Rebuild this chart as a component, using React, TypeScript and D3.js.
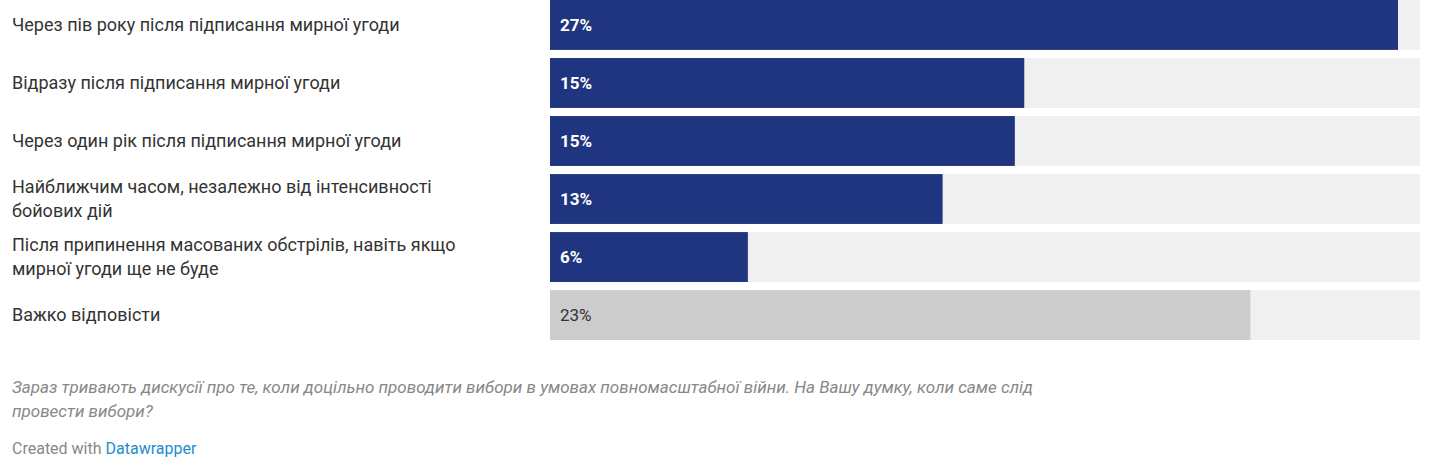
import React from "react";
import * as d3 from "d3";

const categories = [
  ["Через пів року після підписання мирної угоди"],
  ["Відразу після підписання мирної угоди"],
  ["Через один рік після підписання мирної угоди"],
  ["Найближчим часом, незалежно від інтенсивності", "бойових дій"],
  ["Після припинення масованих обстрілів, навіть якщо", "мирної угоди ще не буде"],
  ["Важко відповісти"],
];
const values = [27.0, 15.1, 14.8, 12.5, 6.3, 22.3];
const valueLabels = ["27%", "15%", "15%", "13%", "6%", "23%"];
const caption = [
  "Зараз тривають дискусії про те, коли доцільно проводити вибори в умовах повномасштабної війни. На Вашу думку, коли саме слід",
  "провести вибори?",
];

export default function App() {
  const x = d3.scaleLinear().domain([0, 27.7]).range([550, 1420]);
  const y = d3.scaleBand().domain(d3.range(6).map(String)).range([0, 340]).paddingInner(0.14).paddingOuter(0);
  const font = "Roboto, sans-serif";
  return (
    <svg width={1440} height={460} style={{ position: "absolute", left: 0, top: 0, background: "#fff" }} fontFamily={font}>
      {values.map((v, i) => {
        const yy = y(String(i))!;
        const h = y.bandwidth();
        const last = i === 5;
        const lines = categories[i];
        return (
          <g key={i}>
            <rect x={x(0)} y={yy} width={x(27.7) - x(0)} height={h} fill="#f0f0f0" />
            <rect x={x(0)} y={yy} width={x(v) - x(0)} height={h} fill={last ? "#cccccc" : "#1f357f"} />
            <text x={560} y={yy + h / 2 + 6} fontSize={17} fontWeight={last ? 400 : 700} fill={last ? "#333" : "#fff"}>
              {valueLabels[i]}
            </text>
            {lines.map((l, j) => (
              <text key={j} x={12} y={yy + h / 2 + 6 + (j - (lines.length - 1) / 2) * 24} fontSize={18} fill="#333">
                {l}
              </text>
            ))}
          </g>
        );
      })}
      {caption.map((c, j) => (
        <text key={j} x={12} y={393 + j * 24} fontSize={17} fontStyle="italic" fill="#888">
          {c}
        </text>
      ))}
      <text x={12} y={454} fontSize={16} fill="#888">
        Created with <tspan fill="#1d8bd1">Datawrapper</tspan>
      </text>
    </svg>
  );
}
